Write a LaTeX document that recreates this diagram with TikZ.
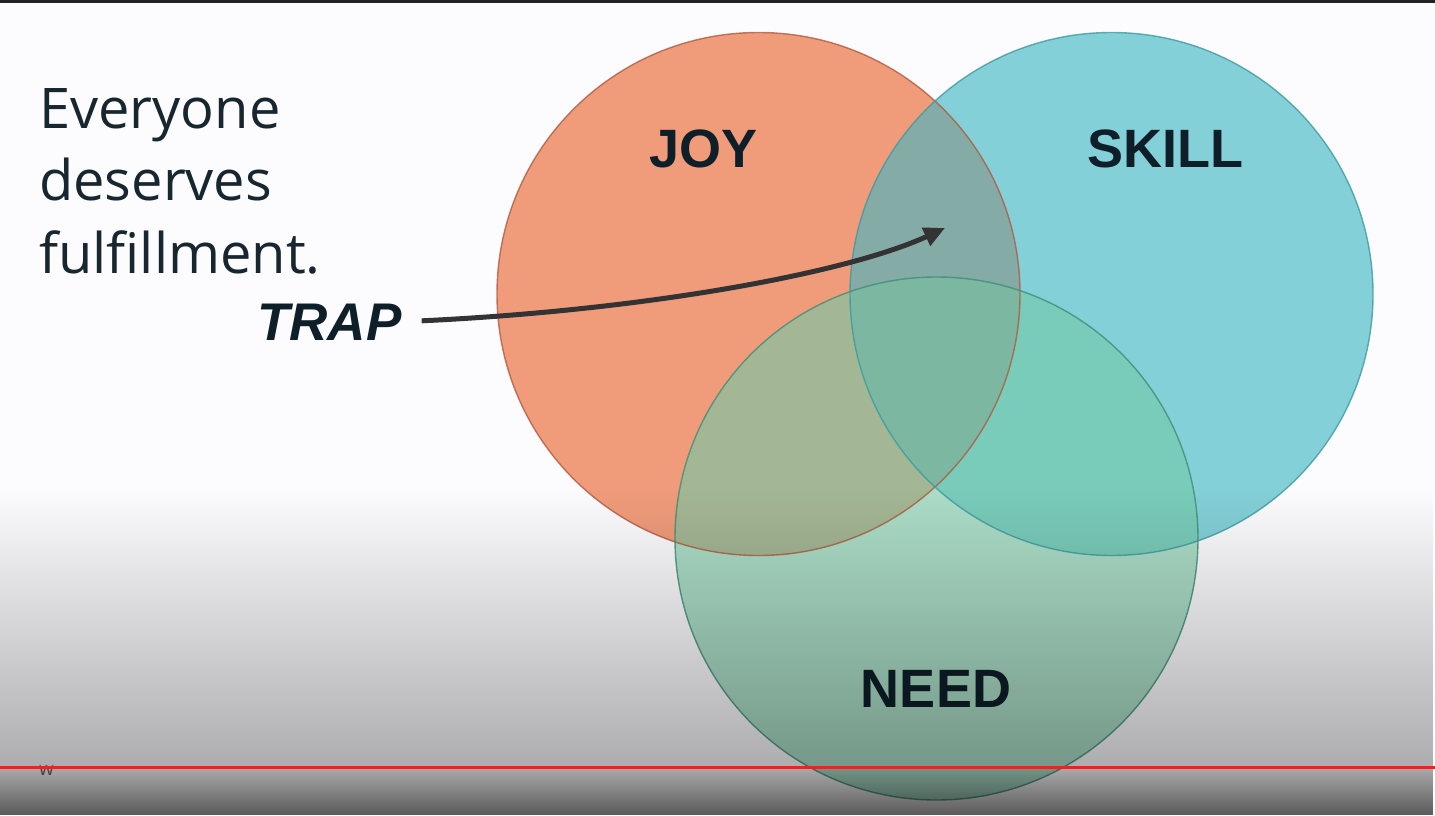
\documentclass[tikz,border=0pt]{standalone}
\usepackage{fontspec}
\setmainfont{Open Sans}
\newfontfamily\labelfont{Liberation Sans}
\usetikzlibrary{arrows.meta,fadings}

% region colours of the three-set Venn diagram
\definecolor{pagebg}{HTML}{FCFCFE}
\definecolor{joyfill}{HTML}{F09C7B}
\definecolor{joyedge}{HTML}{B05A3E}
\definecolor{skillfill}{HTML}{84D0D8}
\definecolor{skilledge}{HTML}{3C9AA0}
\definecolor{needfill}{HTML}{ABDDC7}
\definecolor{neededge}{HTML}{3F8C78}
\definecolor{joyskill}{HTML}{84ABA5}
\definecolor{joyneed}{HTML}{A4B794}
\definecolor{skillneed}{HTML}{7ACCBA}
\definecolor{allthree}{HTML}{7BB7A1}
\definecolor{inktext}{HTML}{18272F}
\definecolor{labelink}{HTML}{0F1F29}
\definecolor{arrowink}{HTML}{333333}
\definecolor{topbar}{HTML}{232323}
\definecolor{redline}{HTML}{FF1A20}

% soft darkening towards the bottom edge
\tikzfading[name=dimlower, top color=transparent!100, bottom color=transparent!69]
\tikzfading[name=dimbar, top color=transparent!68, bottom color=transparent!36]

\begin{document}
\begin{tikzpicture}[x=1pt,y=-1pt,
  setcircle/.style={circle, inner sep=0pt, outer sep=0pt, minimum size=523pt},
  setlabel/.style={font=\labelfont\bfseries\fontsize{54}{54}\selectfont, text=labelink, inner sep=0pt, anchor=base},
  bodyline/.style={font=\fontsize{56}{72}\selectfont, text=inktext, inner sep=0pt, anchor=base west},
  rim/.style={line width=1.4pt, draw opacity=0.8}
]
\useasboundingbox (0,0) rectangle (1435,815);
\fill[pagebg] (0,0) rectangle (1435,815);

% the three sets
\node[setcircle, fill=joyfill]   (joy)   at (758.5,294) {};
\node[setcircle, fill=skillfill] (skill) at (1111.5,294) {};
\node[setcircle, fill=needfill]  (need)  at (936.5,538.5) {};

% pairwise overlaps
\begin{scope}
  \clip (joy.center) circle (261.5);
  \fill[joyskill] (skill.center) circle (261.5);
  \fill[joyneed] (need.center) circle (261.5);
\end{scope}
\begin{scope}
  \clip (skill.center) circle (261.5);
  \fill[skillneed] (need.center) circle (261.5);
\end{scope}
% centre where all three meet
\begin{scope}
  \clip (joy.center) circle (261.5);
  \clip (skill.center) circle (261.5);
  \fill[allthree] (need.center) circle (261.5);
\end{scope}

% outlines
\draw[rim, joyedge]   (joy.center) circle (261.5);
\draw[rim, skilledge] (skill.center) circle (261.5);
\draw[rim, neededge]  (need.center) circle (261.5);

% set names
\node[setlabel] (joylabel)   at (703.5,167) {JOY};
\node[setlabel] (skilllabel) at (1165,167) {SKILL};
\node[setlabel] (needlabel)  at (936,707) {NEED};

% statement on the left
\node[bodyline] (line1) at (39,128) {Everyone};
\node[bodyline] (line2) at (39,200) {deserves};
\node[bodyline] (line3) at (39,273) {fulfillment.};

% the trap pointing into the joy/skill overlap
\node[font=\labelfont\bfseries\itshape\fontsize{53}{53}\selectfont, text=labelink,
      inner sep=0pt, anchor=base west] (trap) at (257,340) {TRAP};
\coordinate (trapend) at (945,228);
\draw[arrowink, line width=5pt, shorten <=20pt,
      -{Triangle[length=21pt,width=19pt]}]
  (trap.east) .. controls (650,310) and (850,272) .. (trapend);

% darkening towards the bottom
\fill[black, path fading=dimlower, fit fading=true] (0,488) rectangle (1435,767);
\node[font=\fontsize{19}{19}\selectfont, text=black!60, inner sep=0pt, anchor=base west] (mark) at (39,775) {w};
\fill[black, path fading=dimbar, fit fading=true] (0,767) rectangle (1435,815);

% bars across the top and near the bottom
\fill[topbar] (0,0) rectangle (1435,2.5);
\fill[redline] (0,766) rectangle (1435,769);
\end{tikzpicture}
\end{document}
